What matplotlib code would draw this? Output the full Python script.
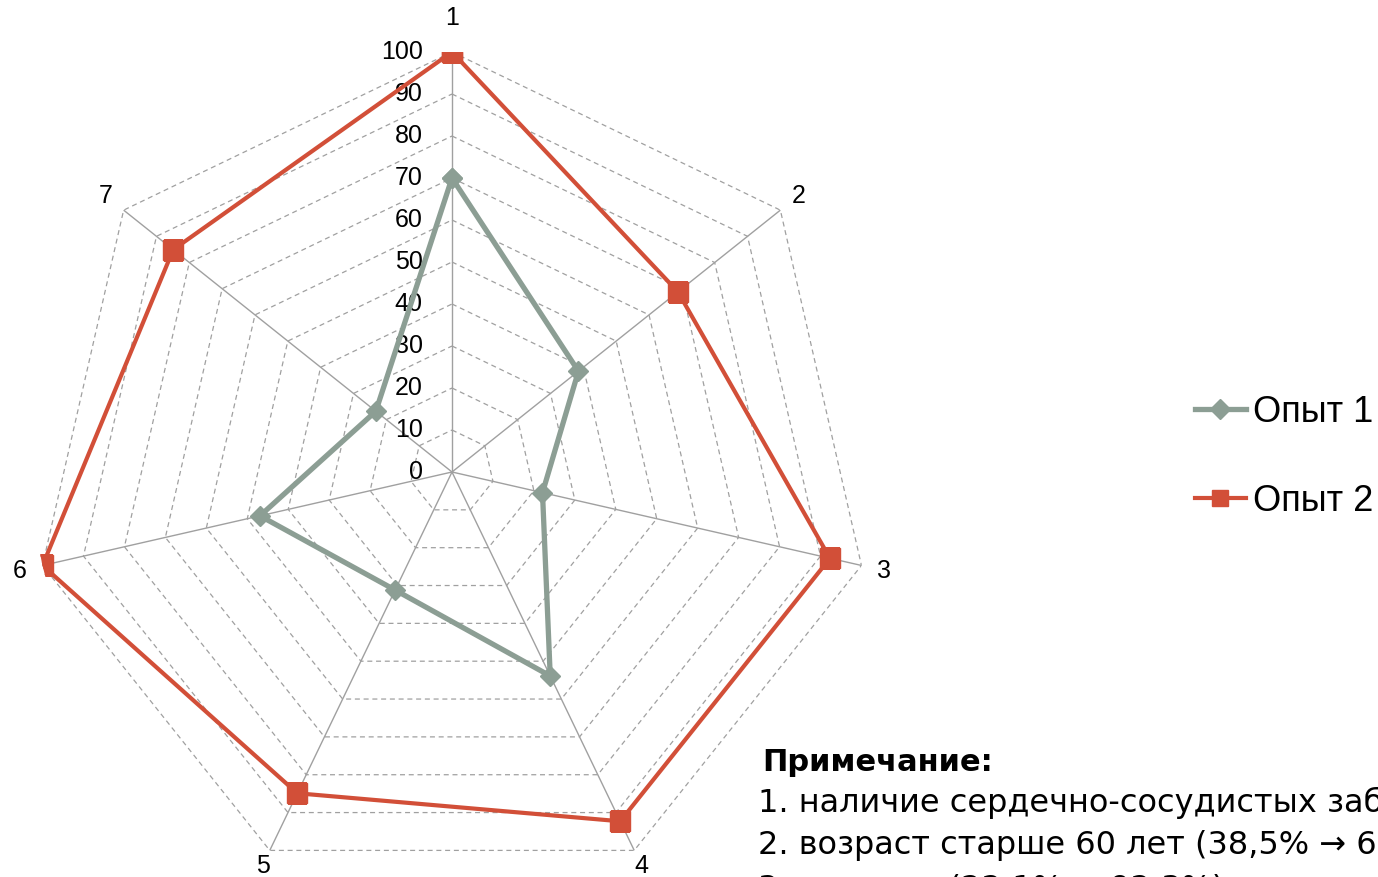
import numpy as np
import matplotlib
matplotlib.use('Agg')
import matplotlib.pyplot as plt
from matplotlib.lines import Line2D

# ----------------------------------------------------
# data
# ----------------------------------------------------
categories = ['1', '2', '3', '4', '5', '6', '7']
opyt1 = [70, 38.5, 22.1, 53.9, 31.2, 46.9, 23.2]
opyt2 = [100, 68.8, 92.3, 92.3, 84.9, 100, 84.9]
series_names = ['Опыт 1', 'Опыт 2']
r_ticks = [0, 10, 20, 30, 40, 50, 60, 70, 80, 90, 100]

note_title = 'Примечание:'
note_lines = ['1. наличие сердечно-сосудистых заболеваний',
              '2. возраст старше 60 лет (38,5% → 68,8%)',
              '3. курение (22,1% → 92,3%)']

# ----------------------------------------------------
# style
# ----------------------------------------------------
plt.rcParams['font.family'] = ['Liberation Sans', 'DejaVu Sans']
c_grey = '#8c9e94'
c_red = '#d24f38'
c_grid = '#a0a0a0'

W, H = 1378, 877
fig = plt.figure(figsize=(W / 100, H / 100), dpi=100)

# polar axes centred at (452, 472) px with radius 420 px
cx, cy, R = 452, 472, 420
ax = fig.add_axes([(cx - R) / W, 1 - (cy + R) / H, 2 * R / W, 2 * R / H],
                  projection='polar')
ax.set_theta_offset(np.pi / 2)
ax.set_theta_direction(-1)
ax.set_ylim(0, 100)
ax.grid(False)
ax.spines['polar'].set_visible(False)
ax.set_xticks([])
ax.set_yticks([])
ax.patch.set_alpha(0)

n = len(categories)
theta = np.linspace(0, 2 * np.pi, n, endpoint=False)
theta_c = np.append(theta, theta[0])

# dashed polygon rings
for r in r_ticks[1:]:
    ax.plot(theta_c, [r] * (n + 1), color=c_grid, lw=0.9, ls=(0, (4, 3)),
            zorder=1)
# solid spokes
for t in theta:
    ax.plot([t, t], [0, 100], color=c_grid, lw=1.0, zorder=1)

# radial value labels along the first spoke
for r in r_ticks:
    ax.annotate(str(r), xy=(0, r), xytext=(-21, 0), textcoords='offset points',
                ha='right', va='center', fontsize=18, color='black',
                annotation_clip=False)

# category labels
label_r = {'1': 108, '4': 104, '5': 104}
for t, lab in zip(theta, categories):
    ax.text(t, label_r.get(lab, 105.5), lab, ha='center', va='center',
            fontsize=18, color='black')

v1 = np.append(opyt1, opyt1[0])
v2 = np.append(opyt2, opyt2[0])
ax.plot(theta_c, v1, color=c_grey, lw=3.8, marker='D', ms=10,
        mfc=c_grey, mec=c_grey, zorder=3, solid_joinstyle='miter')
ax.plot(theta_c, v2, color=c_red, lw=3.0, marker='s', ms=14,
        mfc=c_red, mec=c_red, zorder=4, solid_joinstyle='miter')

# legend
handles = [Line2D([], [], color=c_grey, lw=3.8, marker='D', ms=10),
           Line2D([], [], color=c_red, lw=3.0, marker='s', ms=12)]
fig.legend(handles, series_names, loc='center left',
           bbox_to_anchor=(1195 / W, 1 - 457 / H), frameon=False,
           fontsize=26, handlelength=1.4, handletextpad=0.2,
           labelspacing=1.5, borderpad=0, borderaxespad=0)

# note block (runs past the figure edge)
x0 = 762 / W
fig.text(x0, 1 - 771 / H, note_title, fontsize=22, fontweight='bold',
         family='DejaVu Sans', va='baseline', ha='left')
for line, base in zip(note_lines, [812, 854, 898]):
    fig.text(x0 - 4 / W, 1 - base / H, line, fontsize=23,
             family='DejaVu Sans', va='baseline', ha='left')

fig.savefig('out.png', dpi=100)
